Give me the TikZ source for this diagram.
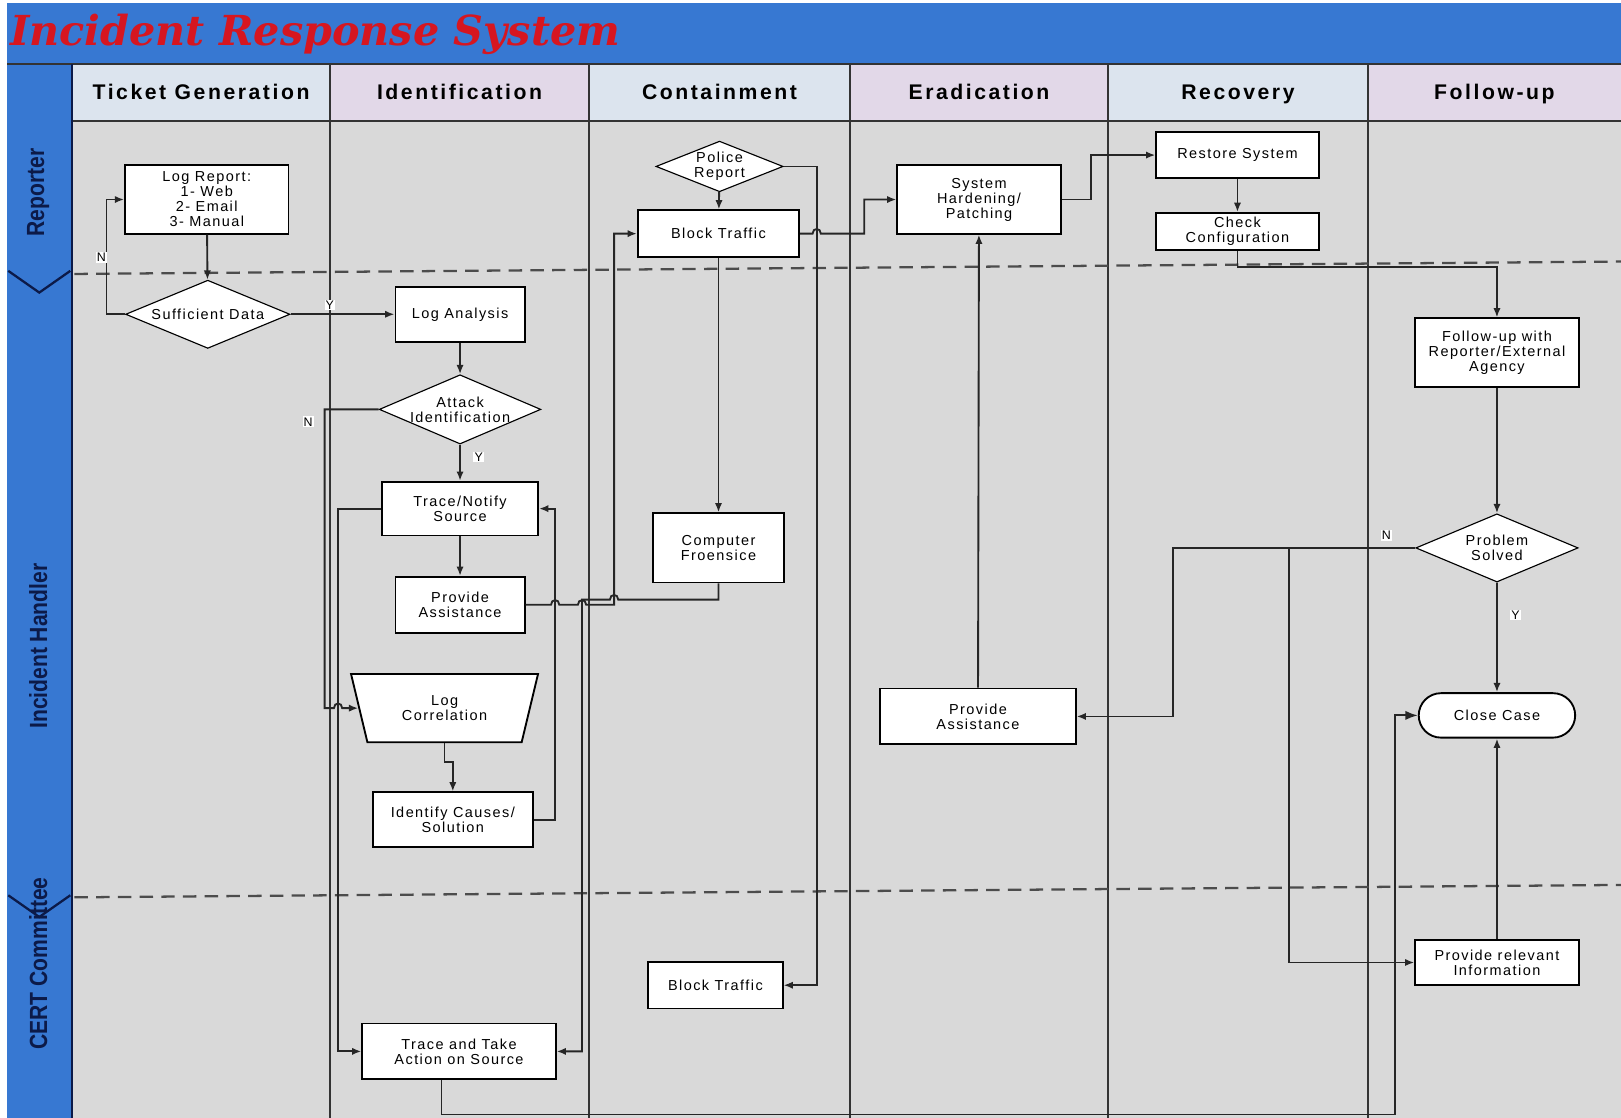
\documentclass[tikz,border=0pt]{standalone}
\usepackage{fontspec}
\setmainfont{Liberation Sans}
\newfontfamily\boxfont[LetterSpace=10]{Liberation Sans}
\newfontfamily\headfont[LetterSpace=12]{Liberation Sans}
\newfontfamily\lanefont[FakeStretch=0.85]{Liberation Sans}
\newfontfamily\titlefont{DejaVu Serif}
\usetikzlibrary{positioning,arrows.meta,shapes.geometric,shapes.misc}
\definecolor{bandblue}{RGB}{55,120,210}
\definecolor{lanenavy}{RGB}{12,26,72}
\definecolor{bodygrey}{RGB}{217,217,217}
\definecolor{hdblue}{RGB}{220,228,238}
\definecolor{hdlav}{RGB}{226,216,232}
\definecolor{titlered}{RGB}{214,22,32}
\tikzset{
  >={Latex[length=9pt,width=7pt]},
  flow/.style={->,line width=1.8pt,black!85},
  frameline/.style={line width=2pt,black!80},
  lanesep/.style={line width=1.8pt,black!80},
  swimdash/.style={line width=2.2pt,black!70,dash pattern=on 13pt off 8pt},
  procbox/.style={draw,line width=1.8pt,fill=white,align=center,inner sep=1pt,
    font=\boxfont\fontsize{14}{14.5}\selectfont},
  decbox/.style={diamond,draw,line width=1.1pt,fill=white,align=center,aspect=2.4,
    inner sep=0pt,font=\boxfont\fontsize{14}{14.5}\selectfont},
  termbox/.style={rounded rectangle,draw,line width=1.8pt,fill=white,
    font=\boxfont\fontsize{14}{14.5}\selectfont},
  corrbox/.style={trapezium,shape border rotate=180,trapezium stretches=true,
    trapezium left angle=73,trapezium right angle=73,draw,line width=1.8pt,
    fill=white,align=center,font=\boxfont\fontsize{14}{14.5}\selectfont},
  yn/.style={fill=white,inner sep=1pt,font=\fontsize{12}{12}\selectfont},
  headlbl/.style={anchor=base,font=\headfont\bfseries\fontsize{20.5}{22}\selectfont},
  lanelbl/.style={rotate=90,text=lanenavy,font=\lanefont\bfseries\fontsize{24}{24}\selectfont},
}

\begin{document}
\begin{tikzpicture}[x=1pt,y=-1pt]
  \useasboundingbox (0,0) rectangle (1568,1081);
  \fill[white] (0,0) rectangle (1568,1081);
  % bands and lanes
  \fill[bandblue] (7,3) rectangle (1568,62);
  \fill[bandblue] (7,62) rectangle (70,1081);
  \fill[bodygrey] (70,117) rectangle (1568,1081);
  \foreach \xa/\xb/\hd/\hc in {70/319/Ticket Generation/hdblue,319/570/Identification/hdlav,
      570/822/Containment/hdblue,822/1072/Eradication/hdlav,1072/1323/Recovery/hdblue,
      1323/1568/Follow-up/hdlav}{
    \fill[\hc] (\xa,62) rectangle (\xb,117);
    \node[headlbl] (hd\xa) at ({(\xa+\xb)/2},96) {\hd};
  }
  \draw[frameline] (7,62) -- (1568,62);
  \draw[frameline] (70,117) -- (1568,117);
  \draw[line width=2pt,lanenavy] (70,62) -- (70,1081);
  \foreach \x in {319,570,822,1072,1323}
    \draw[lanesep] (\x,62) -- (\x,1081);
  \draw[swimdash] (72,265) -- (1568,253);
  \draw[swimdash] (72,868) -- (1568,856);
  \draw[line width=2.2pt,lanenavy] (8,262) -- (38,283) -- (68,262);
  \draw[line width=2.2pt,lanenavy] (8,866) -- (38,887) -- (68,866);
  \node[lanelbl] (lnrep) at (37,186) {Reporter};
  \node[lanelbl] (lnhand) at (37,625) {Incident Handler};
  \node[lanelbl] (lncert) at (37,932) {CERT Committee};
  \node[text=titlered,font=\titlefont\bfseries\itshape\fontsize{40}{40}\selectfont]
    (title) at (305,33) {Incident Response System};

  % ticket generation / identification
  \node[procbox,minimum width=158pt,minimum height=66pt] (logrep) at (200,193)
    {Log Report:\\1- Web\\2- Email\\3- Manual};
  \node[decbox,minimum width=159pt,minimum height=66pt] (suffdata) at (201,304) {Sufficient Data};
  \node[procbox,minimum width=125pt,minimum height=53pt] (loganal) at (445,304) {Log Analysis};
  \node[decbox,minimum width=150pt,minimum height=67pt] (attackid) at (445,396) {Attack\\Identification};
  \node[procbox,minimum width=151pt,minimum height=52pt] (tracenot) at (445,492) {Trace/Notify\\Source};
  \node[procbox,minimum width=125pt,minimum height=54pt] (assist) at (445,585) {Provide\\Assistance};
  \node[corrbox,minimum width=181pt,minimum height=66pt] (logcorr) at (430,685) {Log\\Correlation};
  \node[procbox,minimum width=155pt,minimum height=53pt] (causes) at (438,793) {Identify Causes/\\Solution};
  \node[procbox,minimum width=187pt,minimum height=54pt] (traceact) at (444,1017) {Trace and Take\\Action on Source};
  % containment
  \node[decbox,minimum width=123pt,minimum height=49pt] (police) at (696,161) {Police\\Report};
  \node[procbox,minimum width=156pt,minimum height=45pt] (block) at (695,226) {Block Traffic};
  \node[procbox,minimum width=126pt,minimum height=67pt] (forensic) at (695,530) {Computer\\Froensice};
  \node[procbox,minimum width=130pt,minimum height=45pt] (blockcert) at (692,953) {Block Traffic};
  % eradication / recovery
  \node[procbox,minimum width=158pt,minimum height=66pt] (harden) at (947,193) {System\\Hardening/\\Patching};
  \node[procbox,minimum width=189pt,minimum height=54pt] (assisterad) at (946,693) {Provide\\Assistance};
  \node[procbox,minimum width=157pt,minimum height=44pt] (restore) at (1197,150) {Restore System};
  \node[procbox,minimum width=157pt,minimum height=36pt] (checkcfg) at (1197,224) {Check\\Configuration};
  % follow-up
  \node[procbox,minimum width=158pt,minimum height=66pt] (follow) at (1448,341) {Follow-up with\\Reporter/External\\Agency};
  \node[decbox,minimum width=157pt,minimum height=66pt] (solved) at (1448,530) {Problem\\Solved};
  \node[termbox,minimum width=158pt,minimum height=43pt] (closecase) at (1448,692) {Close Case};
  \node[procbox,minimum width=158pt,minimum height=44pt] (relinfo) at (1448,931) {Provide relevant\\Information};
  \coordinate (split) at (1247,530);

  % connectors
  \draw[flow] (logrep) -- (suffdata);
  \draw[flow] (suffdata.west) -- (103,304) |- (logrep.west);
  \node[yn] (nsuff) at (98,249) {N};
  \draw[flow] (suffdata) -- (loganal);
  \node[yn] (ysuff) at (319,295) {Y};
  \draw[flow] (loganal) -- (attackid);
  \draw[flow] (attackid) -- (tracenot);
  \node[yn] (yattack) at (463,442) {Y};
  \draw[flow] (attackid.west) -- (314,396) -- (314,685) -- (323,685)
    .. controls (323,679) and (331,679) .. (331,685) -- (logcorr.west);
  \node[yn] (nattack) at (298,408) {N};
  \draw[flow] (tracenot.west) -- (327,492) |- (traceact.west);
  \draw[flow] (tracenot) -- (assist);
  \draw[flow] (logcorr.south) -- ++(0,18) -| (causes.north);
  \draw[flow] (causes.east) -- (537,793) |- (tracenot.east);
  \draw[flow] (assist.east) -- (533,585) .. controls (533,579) and (541,579) .. (541,585)
    -- (559,585) .. controls (559,579) and (567,579) .. (567,585) -- (594,585) |- (block.west);
  \draw[flow] (forensic.south) -- (695,580) -- (598,580)
    .. controls (598,574) and (590,574) .. (590,580) -- (563,580) |- (traceact.east);
  \draw[flow] (police) -- (block);
  \draw[flow] (police.east) -- (790,161) |- (blockcert.east);
  \draw[flow] (block) -- (forensic);
  \draw[flow] (block.east) -- (786,226) .. controls (786,220) and (794,220) .. (794,226)
    -- (836,226) |- (harden.west);
  \draw[flow] (harden.east) -- (1055,193) |- (restore.west);
  \draw[flow] (restore) -- (checkcfg);
  \draw[flow] (checkcfg.south) -- (1197,258) -| (follow.north);
  \draw[flow] (follow) -- (solved);
  \draw[flow] (solved) -- (closecase);
  \node[yn] (ysolved) at (1466,595) {Y};
  \draw[flow] (solved.west) -- (1135,530) |- (assisterad.east);
  \node[yn] (nsolved) at (1341,518) {N};
  \draw[flow] (split) |- (relinfo.west);
  \draw[flow] (relinfo) -- (closecase);
  \draw[flow] (assisterad) -- (harden);
  \draw[flow,-{Latex[length=12pt,width=9pt]}] ([xshift=-17pt]traceact.south) |- (1349,1078)
    |- (closecase.west);
\end{tikzpicture}
\end{document}
